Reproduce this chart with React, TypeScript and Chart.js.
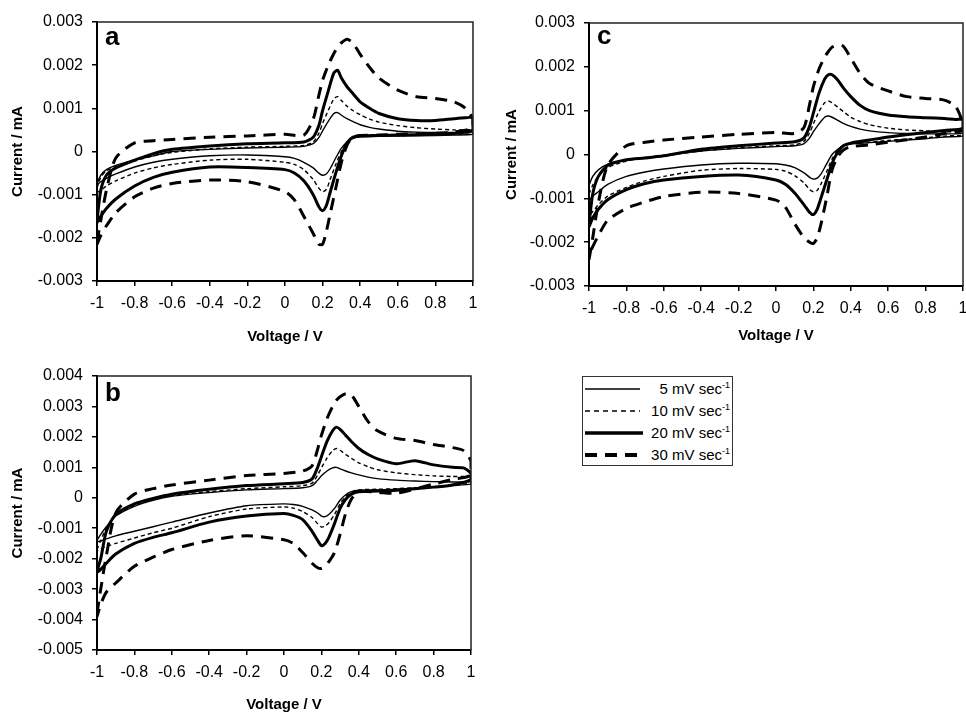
import React, { useEffect, useRef } from "react";
import { Chart, registerables } from "chart.js";

Chart.register(...registerables);

// ---------- data ----------
// Potential sweep (V): forward -1 -> 1, then reverse 1 -> -1
const V_LOOP = [
  -1, -0.98, -0.95, -0.9, -0.8, -0.7, -0.6, -0.4, -0.2, 0, 0.1, 0.15, 0.18, 0.2, 0.23, 0.26, 0.28, 0.3, 0.33, 0.36,
  0.4, 0.45, 0.5, 0.6, 0.7, 0.8, 0.9, 0.96, 1,
  1, 0.9, 0.8, 0.6, 0.5, 0.4, 0.36, 0.33, 0.3, 0.27, 0.24, 0.22, 0.2, 0.18, 0.15, 0.1, 0.05, 0, -0.2, -0.4, -0.6,
  -0.7, -0.8, -0.9, -0.95, -0.98, -1,
];

const X_TICKS = [-1, -0.8, -0.6, -0.4, -0.2, 0, 0.2, 0.4, 0.6, 0.8, 1];
const Y_TICKS_AC = [-0.003, -0.002, -0.001, 0, 0.001, 0.002, 0.003];
const Y_TICKS_B = [-0.005, -0.004, -0.003, -0.002, -0.001, 0, 0.001, 0.002, 0.003, 0.004];

const RATE_LABELS = ["5 mV sec", "10 mV sec", "20 mV sec", "30 mV sec"];

// Currents in units of 0.001 mA, one value per V_LOOP point
// Panel a
const A_5 = [
  -0.75, -0.55, -0.42, -0.32, -0.2, -0.1, 0.0, 0.05, 0.08, 0.1, 0.12, 0.18, 0.32, 0.48, 0.7, 0.88, 0.9, 0.84, 0.76, 0.7,
  0.62, 0.56, 0.52, 0.47, 0.45, 0.44, 0.44, 0.44, 0.45,
  0.4, 0.38, 0.37, 0.36, 0.35, 0.34, 0.3, 0.22, 0.08, -0.15, -0.4, -0.52, -0.55, -0.5, -0.38, -0.25, -0.16, -0.12, -0.08,
  -0.1, -0.18, -0.25, -0.36, -0.52, -0.62, -0.7, -0.78,
];
const A_10 = [
  -0.85, -0.6, -0.45, -0.35, -0.22, -0.1, -0.02, 0.06, 0.1, 0.12, 0.14, 0.22, 0.42, 0.65, 0.95, 1.22, 1.27, 1.18, 1.05,
  0.95, 0.85, 0.75, 0.68, 0.6, 0.55, 0.52, 0.5, 0.5, 0.5,
  0.42, 0.4, 0.38, 0.37, 0.36, 0.35, 0.3, 0.2, 0.0, -0.3, -0.65, -0.88, -0.93, -0.85, -0.65, -0.42, -0.3, -0.25, -0.18,
  -0.2, -0.3, -0.38, -0.5, -0.68, -0.8, -0.9, -0.95,
];
const A_20 = [
  -1.6, -0.9, -0.55, -0.38, -0.2, -0.05, 0.05, 0.13, 0.18, 0.2, 0.22, 0.33, 0.6, 0.95, 1.4, 1.82, 1.88, 1.7, 1.5, 1.35,
  1.15, 1.0, 0.88, 0.76, 0.72, 0.72, 0.76, 0.78, 0.78,
  0.5, 0.42, 0.4, 0.38, 0.37, 0.36, 0.33, 0.2, -0.1, -0.5, -0.95, -1.25, -1.37, -1.28, -1.0, -0.68, -0.5, -0.42, -0.37,
  -0.36, -0.48, -0.6, -0.8, -1.1, -1.32, -1.5, -1.65,
];
const A_30 = [
  -2.1, -1.6, -0.9, -0.15, 0.2, 0.25, 0.28, 0.33, 0.36, 0.4, 0.38, 0.75, 1.3, 1.65, 2.0, 2.27, 2.42, 2.52, 2.6, 2.52,
  2.25, 1.95, 1.7, 1.42, 1.27, 1.23, 1.15, 1.0, 0.75,
  0.55, 0.45, 0.42, 0.4, 0.38, 0.37, 0.33, 0.15, -0.25, -0.85, -1.45, -1.85, -2.15, -2.15, -1.9, -1.5, -1.12, -0.93,
  -0.7, -0.66, -0.74, -0.85, -1.05, -1.42, -1.72, -1.95, -2.15,
];

// Panel b
const B_5 = [
  -1.4, -1.2, -0.95, -0.6, -0.28, -0.08, 0.05, 0.17, 0.26, 0.3, 0.33, 0.4, 0.58, 0.72, 0.88, 0.98, 1.0, 0.95, 0.88, 0.82,
  0.75, 0.68, 0.63, 0.58, 0.55, 0.53, 0.52, 0.52, 0.52,
  0.45, 0.4, 0.35, 0.28, 0.26, 0.25, 0.2, 0.1, -0.08, -0.35, -0.55, -0.62, -0.6, -0.5, -0.4, -0.28, -0.22, -0.2, -0.26,
  -0.5, -0.8, -0.95, -1.1, -1.25, -1.35, -1.42, -1.45,
];
const B_10 = [
  -1.7, -1.4, -1.0, -0.6, -0.25, -0.05, 0.08, 0.2, 0.3, 0.36, 0.4, 0.48, 0.75, 0.98, 1.3, 1.55, 1.62, 1.56, 1.42, 1.3,
  1.15, 1.02, 0.92, 0.82, 0.76, 0.72, 0.7, 0.7, 0.7,
  0.5, 0.42, 0.36, 0.3, 0.28, 0.26, 0.18, 0.05, -0.2, -0.55, -0.82, -0.93, -0.96, -0.85, -0.65, -0.45, -0.34, -0.3,
  -0.37, -0.62, -1.0, -1.15, -1.32, -1.5, -1.6, -1.68, -1.75,
];
const B_20 = [
  -2.4, -2.0, -1.1, -0.55, -0.2, -0.02, 0.12, 0.28, 0.4, 0.46, 0.5, 0.62, 1.0, 1.35, 1.85, 2.2, 2.32, 2.25, 2.05, 1.85,
  1.62, 1.42, 1.28, 1.12, 1.22, 1.08, 1.0, 0.98, 0.8,
  0.6, 0.42, 0.35, 0.25, 0.22, 0.2, 0.12, -0.05, -0.35, -0.85, -1.3, -1.5, -1.57, -1.4, -1.1, -0.72, -0.58, -0.52, -0.6,
  -0.8, -1.15, -1.3, -1.5, -1.85, -2.15, -2.35, -2.45,
];
const B_30 = [
  -3.8, -3.0, -1.9, -0.5, 0.12, 0.3, 0.42, 0.58, 0.73, 0.8, 0.88, 1.05, 1.6, 2.05, 2.6, 3.0, 3.2, 3.32, 3.42, 3.38,
  3.0, 2.5, 2.2, 1.95, 1.88, 1.75, 1.65, 1.55, 1.2,
  0.75, 0.6, 0.45, 0.15, 0.18, 0.2, -0.05, -0.5, -1.2, -1.8, -2.1, -2.25, -2.32, -2.3, -2.15, -1.8, -1.5, -1.38, -1.25,
  -1.4, -1.7, -1.95, -2.25, -2.8, -3.1, -3.5, -3.9,
];

// Panel c
const C_5 = [
  -0.7, -0.5, -0.35, -0.22, -0.12, -0.07, -0.02, 0.08, 0.14, 0.18, 0.2, 0.25, 0.38, 0.52, 0.7, 0.85, 0.88, 0.85, 0.78,
  0.71, 0.64, 0.58, 0.54, 0.5, 0.48, 0.47, 0.47, 0.47, 0.48,
  0.42, 0.4, 0.36, 0.3, 0.27, 0.24, 0.2, 0.12, 0.0, -0.22, -0.45, -0.54, -0.56, -0.52, -0.42, -0.3, -0.24, -0.21, -0.2,
  -0.24, -0.33, -0.4, -0.5, -0.68, -0.85, -0.95, -1.05,
];
const C_10 = [
  -0.9, -0.7, -0.5, -0.3, -0.15, -0.08, -0.03, 0.08, 0.15, 0.2, 0.22, 0.3, 0.5, 0.7, 0.98, 1.18, 1.22, 1.18, 1.08, 0.98,
  0.85, 0.75, 0.68, 0.6, 0.56, 0.54, 0.52, 0.52, 0.52,
  0.45, 0.42, 0.38, 0.32, 0.28, 0.25, 0.2, 0.1, -0.1, -0.4, -0.68, -0.82, -0.85, -0.8, -0.65, -0.48, -0.38, -0.34, -0.32,
  -0.36, -0.5, -0.6, -0.75, -0.95, -1.15, -1.3, -1.4,
];
const C_20 = [
  -1.6, -0.9, -0.5, -0.25, -0.12, -0.08, -0.03, 0.12, 0.2, 0.26, 0.29, 0.38, 0.65, 0.95, 1.4, 1.72, 1.82, 1.82, 1.7, 1.52,
  1.32, 1.12, 1.0, 0.9, 0.86, 0.84, 0.82, 0.8, 0.8,
  0.6, 0.55, 0.5, 0.4, 0.33, 0.26, 0.2, 0.05, -0.2, -0.6, -1.0, -1.25, -1.37, -1.32, -1.15, -0.88, -0.68, -0.58, -0.47,
  -0.5, -0.58, -0.66, -0.8, -1.03, -1.25, -1.45, -1.65,
];
const C_30 = [
  -2.4, -1.9, -1.1, -0.25, 0.2, 0.28, 0.33, 0.4, 0.46, 0.5, 0.48, 0.62, 1.15, 1.55, 1.95, 2.22, 2.35, 2.45, 2.5, 2.47,
  2.2, 1.85, 1.62, 1.45, 1.32, 1.28, 1.24, 1.1, 0.7,
  0.55, 0.48, 0.4, 0.28, 0.22, 0.18, 0.1, -0.05, -0.35, -1.0, -1.6, -1.9, -2.03, -2.0, -1.9, -1.58, -1.2, -1.04, -0.89,
  -0.86, -0.96, -1.08, -1.23, -1.5, -1.85, -2.1, -2.3,
];

// ---------- styling ----------
const FONT = '"Liberation Sans", Arial, Helvetica, sans-serif';
const LINE_STYLES = [
  { width: 1.4, dash: [] as number[] },
  { width: 1.4, dash: [4, 3] },
  { width: 3, dash: [] as number[] },
  { width: 3, dash: [12, 8] },
];
const LEGEND_STYLES = [
  { width: 1.3, dash: "" },
  { width: 1.6, dash: "5 4" },
  { width: 3.5, dash: "" },
  { width: 4, dash: "12 8" },
];

type PanelCfg = {
  letter: string;
  left: number;
  top: number;
  w: number;
  h: number;
  area: { l: number; t: number; r: number; b: number };
  yMin: number;
  yMax: number;
  yTicks: number[];
  series: number[][];
  yTitlePad: number;
  xTitlePad: number;
  letterDy: number;
};

const PANELS: PanelCfg[] = [
  {
    letter: "a", left: 0, top: 0, w: 490, h: 360,
    area: { l: 97, t: 22, r: 473, b: 281 },
    yMin: -0.003, yMax: 0.003, yTicks: Y_TICKS_AC,
    series: [A_5, A_10, A_20, A_30],
    yTitlePad: 10.5, xTitlePad: 15.5, letterDy: 23,
  },
  {
    letter: "c", left: 490, top: 0, w: 476, h: 360,
    area: { l: 99, t: 23, r: 473, b: 286 },
    yMin: -0.003, yMax: 0.003, yTicks: Y_TICKS_AC,
    series: [C_5, C_10, C_20, C_30],
    yTitlePad: 14.5, xTitlePad: 16.5, letterDy: 21,
  },
  {
    letter: "b", left: 0, top: 340, w: 490, h: 372,
    area: { l: 97, t: 36, r: 471, b: 310 },
    yMin: -0.005, yMax: 0.004, yTicks: Y_TICKS_B,
    series: [B_5, B_10, B_20, B_30],
    yTitlePad: 10.5, xTitlePad: 0, letterDy: 25,
  },
];

function buildConfig(cfg: PanelCfg): any {
  const datasets = cfg.series.map((arr, i) => ({
    label: RATE_LABELS[i],
    data: V_LOOP.map((v, k) => ({ x: v, y: arr[k] / 1000 })),
    showLine: true,
    borderColor: "#000",
    backgroundColor: "#000",
    borderWidth: LINE_STYLES[i].width,
    borderDash: LINE_STYLES[i].dash,
    pointRadius: 0,
    tension: 0.25,
    fill: false,
  }));

  const framePlugin = {
    id: "frame" + cfg.letter,
    afterDraw(chart: any) {
      const { ctx, chartArea } = chart;
      ctx.save();
      ctx.strokeStyle = "#222";
      ctx.lineWidth = 1.5;
      ctx.beginPath();
      ctx.moveTo(chartArea.left, chartArea.top);
      ctx.lineTo(chartArea.right, chartArea.top);
      ctx.lineTo(chartArea.right, chartArea.bottom);
      ctx.stroke();
      ctx.fillStyle = "#000";
      ctx.font = `bold 26px ${FONT}`;
      ctx.textBaseline = "alphabetic";
      ctx.textAlign = "left";
      ctx.fillText(cfg.letter, chartArea.left + 8, chartArea.top + cfg.letterDy);
      ctx.restore();
    },
  };

  const tickFont = { family: FONT, size: 16, lineHeight: 1.2 };
  const titleFont = { family: FONT, size: 15, weight: "bold" as const, lineHeight: 1 };

  return {
    type: "scatter",
    data: { datasets },
    plugins: [framePlugin],
    options: {
      responsive: false,
      animation: false,
      events: [],
      layout: { padding: { left: 0, top: cfg.area.t, right: cfg.w - cfg.area.r, bottom: 0 } },
      plugins: { legend: { display: false }, tooltip: { enabled: false } },
      scales: {
        x: {
          type: "linear",
          position: "bottom",
          min: -1,
          max: 1,
          afterBuildTicks: (s: any) => {
            s.ticks = X_TICKS.map((v) => ({ value: v }));
          },
          afterFit: (s: any) => {
            s.height = cfg.h - cfg.area.b;
            s.paddingLeft = 0;
            s.paddingRight = 0;
          },
          ticks: {
            font: tickFont,
            color: "#000",
            padding: 8,
            maxRotation: 0,
            autoSkip: false,
            callback: (v: number) => String(Number(v.toFixed(1))),
          },
          grid: { display: true, drawOnChartArea: false, drawTicks: true, tickLength: 5, color: "#000", lineWidth: 1.5 },
          border: { display: true, color: "#000", width: 2 },
          title: {
            display: true,
            text: "Voltage / V",
            color: "#000",
            font: titleFont,
            padding: { top: 0, bottom: cfg.xTitlePad },
          },
        },
        y: {
          type: "linear",
          position: "left",
          min: cfg.yMin,
          max: cfg.yMax,
          afterBuildTicks: (s: any) => {
            s.ticks = cfg.yTicks.map((v) => ({ value: v }));
          },
          afterFit: (s: any) => {
            s.width = cfg.area.l;
            s.paddingTop = 0;
            s.paddingBottom = 0;
          },
          ticks: {
            font: tickFont,
            color: "#000",
            padding: 9,
            autoSkip: false,
            callback: (v: number) => String(Number(v.toFixed(3))),
          },
          grid: { display: true, drawOnChartArea: false, drawTicks: true, tickLength: 5, color: "#000", lineWidth: 1.5 },
          border: { display: true, color: "#000", width: 2 },
          title: {
            display: true,
            text: "Current / mA",
            color: "#000",
            font: titleFont,
            padding: { top: cfg.yTitlePad, bottom: 0 },
          },
        },
      },
    },
  };
}

function Panel({ cfg }: { cfg: PanelCfg }) {
  const ref = useRef<HTMLCanvasElement>(null);
  useEffect(() => {
    if (!ref.current) return;
    const chart = new Chart(ref.current, buildConfig(cfg));
    return () => chart.destroy();
  }, [cfg]);
  return (
    <canvas
      ref={ref}
      width={cfg.w}
      height={cfg.h}
      style={{ position: "absolute", left: cfg.left, top: cfg.top, width: cfg.w, height: cfg.h }}
    />
  );
}

function Legend() {
  return (
    <div
      style={{
        position: "absolute",
        left: 582,
        top: 376,
        width: 151,
        height: 90,
        boxSizing: "border-box",
        border: "1px solid #333",
        background: "#fff",
        fontFamily: FONT,
        fontSize: 15,
        color: "#000",
      }}
    >
      {RATE_LABELS.map((lab, i) => (
        <div key={lab} style={{ position: "absolute", left: 0, right: 0, top: 1 + i * 22, height: 22 }}>
          <svg width={62} height={22} style={{ position: "absolute", left: 0, top: 0 }}>
            <line
              x1={2}
              y1={11}
              x2={i === 2 ? 60 : 57}
              y2={11}
              stroke="#000"
              strokeWidth={LEGEND_STYLES[i].width}
              strokeDasharray={LEGEND_STYLES[i].dash || undefined}
            />
          </svg>
          <span
            style={{
              position: "absolute",
              right: 2,
              top: 0,
              height: 22,
              lineHeight: "22px",
              whiteSpace: "nowrap",
            }}
          >
            {lab}
            <sup style={{ fontSize: 9, verticalAlign: "6px", lineHeight: 0 }}>-1</sup>
          </span>
        </div>
      ))}
    </div>
  );
}

export default function App() {
  return (
    <div
      style={{
        position: "fixed",
        left: 0,
        top: 0,
        width: 966,
        height: 712,
        background: "#fff",
        overflow: "hidden",
      }}
    >
      {PANELS.map((p) => (
        <Panel key={p.letter} cfg={p} />
      ))}
      <Legend />
    </div>
  );
}
